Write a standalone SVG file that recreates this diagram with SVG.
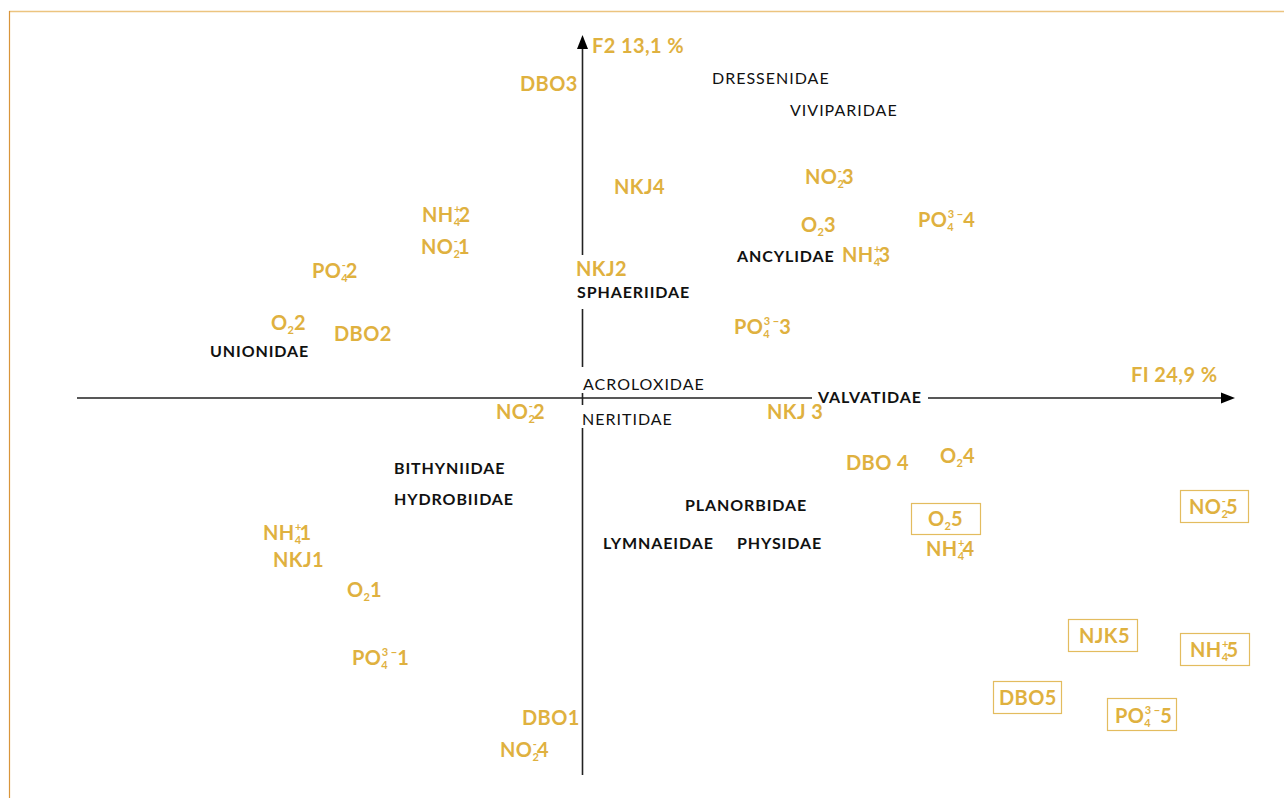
<svg xmlns="http://www.w3.org/2000/svg" width="1284" height="798" viewBox="0 0 1284 798">
<style>
.g{font-family:Lato,"Open Sans","Liberation Sans",sans-serif;font-weight:bold;font-size:20px;letter-spacing:0.4px;fill:#dfb13f}
.b{font-family:Lato,"Open Sans","Liberation Sans",sans-serif;font-weight:bold;font-size:16px;letter-spacing:0.9px;fill:#111}
.r{font-family:Lato,"Open Sans","Liberation Sans",sans-serif;font-weight:normal;font-size:16px;letter-spacing:1px;fill:#111}
.box{fill:none;stroke:#e3bc5f;stroke-width:1.2}
.ax{stroke:#222;stroke-width:1.6;fill:none}
.s{font-size:11px;letter-spacing:0}
</style>
<rect width="1284" height="798" fill="#fff"/>
<line x1="9" y1="11.5" x2="1284" y2="11.5" stroke="#ecc47f" stroke-width="1.6"/>
<line x1="9.5" y1="11" x2="9.5" y2="798" stroke="#d9953a" stroke-width="1.2"/>
<g id="connectors">
<path class="ax" d="M582.5 48V255M582.5 309V367M582.5 393V405M582.5 428V775"/>
<polygon points="582.5,35 577,49 588,49" fill="#000"/>
<path class="ax" d="M77 398H812M928 398H1222"/>
<polygon points="1235,398 1221,392.5 1221,403.5" fill="#000"/>
</g>
<g id="axis-labels">
<text class="g" x="592" y="53" letter-spacing="0.8">F2 13,1 %</text>
<text class="g" x="1131" y="382" letter-spacing="0.8">FI 24,9 %</text>
</g>
<g id="families">
<text id="dressenidae" class="r" x="712" y="84">DRESSENIDAE</text>
<text id="viviparidae" class="r" x="790" y="116">VIVIPARIDAE</text>
<text id="sphaeriidae" class="b" x="577" y="298">SPHAERIIDAE</text>
<text id="ancylidae" class="b" x="737" y="262">ANCYLIDAE</text>
<text id="unionidae" class="b" x="210" y="357">UNIONIDAE</text>
<text id="acroloxidae" class="r" x="583" y="390">ACROLOXIDAE</text>
<text id="valvatidae" class="b" x="818" y="403">VALVATIDAE</text>
<text id="neritidae" class="r" x="582" y="425">NERITIDAE</text>
<text id="bithyniidae" class="b" x="394" y="474">BITHYNIIDAE</text>
<text id="hydrobiidae" class="b" x="394" y="505">HYDROBIIDAE</text>
<text id="planorbidae" class="b" x="685" y="511">PLANORBIDAE</text>
<text id="lymnaeidae" class="b" x="603" y="549">LYMNAEIDAE</text>
<text id="physidae" class="b" x="737" y="549">PHYSIDAE</text>
</g>
<g id="variables">
<text id="dbo3" class="g" x="520" y="91">DBO3</text>
<text id="nkj4" class="g" x="614" y="194">NKJ4</text>
<text id="no2-3" class="g" x="805" y="184">NO<tspan class="s" dy="4">2</tspan><tspan class="s" dx="-6" dy="-13">-</tspan><tspan dy="9">3</tspan></text>
<text id="o2-3" class="g" x="801" y="232">O<tspan class="s" dy="4">2</tspan><tspan dy="-4">3</tspan></text>
<text id="po4-4" class="g" x="918" y="227">PO<tspan class="s" dy="4">4</tspan><tspan class="s" dx="-6" dy="-13">3 −</tspan><tspan dy="9">4</tspan></text>
<text id="nh4-2" class="g" x="422" y="222">NH<tspan class="s" dy="4">4</tspan><tspan class="s" dx="-6" dy="-13">+</tspan><tspan dx="-2" dy="9">2</tspan></text>
<text id="no2-1" class="g" x="421" y="254">NO<tspan class="s" dy="4">2</tspan><tspan class="s" dx="-6" dy="-13">-</tspan><tspan dy="9">1</tspan></text>
<text id="po4-2" class="g" x="312" y="278">PO<tspan class="s" dy="4">4</tspan><tspan class="s" dx="-6" dy="-13">-</tspan><tspan dy="9">2</tspan></text>
<text id="nkj2" class="g" x="576" y="276">NKJ2</text>
<text id="nh4-3" class="g" x="842" y="262">NH<tspan class="s" dy="4">4</tspan><tspan class="s" dx="-6" dy="-13">+</tspan><tspan dx="-2" dy="9">3</tspan></text>
<text id="po4-3" class="g" x="734" y="334">PO<tspan class="s" dy="4">4</tspan><tspan class="s" dx="-6" dy="-13">3 −</tspan><tspan dy="9">3</tspan></text>
<text id="o2-2" class="g" x="271" y="330">O<tspan class="s" dy="4">2</tspan><tspan dy="-4">2</tspan></text>
<text id="dbo2" class="g" x="334" y="341">DBO2</text>
<text id="no2-2" class="g" x="496" y="419">NO<tspan class="s" dy="4">2</tspan><tspan class="s" dx="-6" dy="-13">-</tspan><tspan dy="9">2</tspan></text>
<text id="nkj3" class="g" x="767" y="419">NKJ 3</text>
<text id="dbo4" class="g" x="846" y="470">DBO 4</text>
<text id="o2-4" class="g" x="940" y="463">O<tspan class="s" dy="4">2</tspan><tspan dy="-4">4</tspan></text>
<text id="nh4-4" class="g" x="926" y="556">NH<tspan class="s" dy="4">4</tspan><tspan class="s" dx="-6" dy="-13">+</tspan><tspan dx="-2" dy="9">4</tspan></text>
<text id="nh4-1" class="g" x="263" y="540">NH<tspan class="s" dy="4">4</tspan><tspan class="s" dx="-6" dy="-13">+</tspan><tspan dx="-2" dy="9">1</tspan></text>
<text id="nkj1" class="g" x="273" y="567">NKJ1</text>
<text id="o2-1" class="g" x="347" y="597">O<tspan class="s" dy="4">2</tspan><tspan dy="-4">1</tspan></text>
<text id="po4-1" class="g" x="352" y="665">PO<tspan class="s" dy="4">4</tspan><tspan class="s" dx="-6" dy="-13">3 −</tspan><tspan dy="9">1</tspan></text>
<text id="dbo1" class="g" x="522" y="725">DBO1</text>
<text id="no2-4" class="g" x="500" y="757">NO<tspan class="s" dy="4">2</tspan><tspan class="s" dx="-6" dy="-13">-</tspan><tspan dy="9">4</tspan></text>
</g>
<g id="boxed">
<g id="o2-5"><rect class="box" x="911.5" y="503.5" width="69" height="31"/><text class="g" x="928" y="526">O<tspan class="s" dy="4">2</tspan><tspan dy="-4">5</tspan></text></g>
<g id="no2-5"><rect class="box" x="1180.5" y="490.5" width="68" height="32"/><text class="g" x="1189" y="514">NO<tspan class="s" dy="4">2</tspan><tspan class="s" dx="-6" dy="-13">-</tspan><tspan dy="9">5</tspan></text></g>
<g id="njk5"><rect class="box" x="1068.5" y="619.5" width="69" height="32"/><text class="g" x="1079" y="643">NJK5</text></g>
<g id="nh4-5"><rect class="box" x="1180.5" y="633.5" width="69" height="32"/><text class="g" x="1190" y="657">NH<tspan class="s" dy="4">4</tspan><tspan class="s" dx="-6" dy="-13">+</tspan><tspan dx="-2" dy="9">5</tspan></text></g>
<g id="dbo5"><rect class="box" x="993.5" y="681.5" width="68" height="32"/><text class="g" x="999" y="705">DBO5</text></g>
<g id="po4-5"><rect class="box" x="1107.5" y="698.5" width="69" height="32"/><text class="g" x="1115" y="723">PO<tspan class="s" dy="4">4</tspan><tspan class="s" dx="-6" dy="-13">3 −</tspan><tspan dy="9">5</tspan></text></g>
</g>
</svg>
